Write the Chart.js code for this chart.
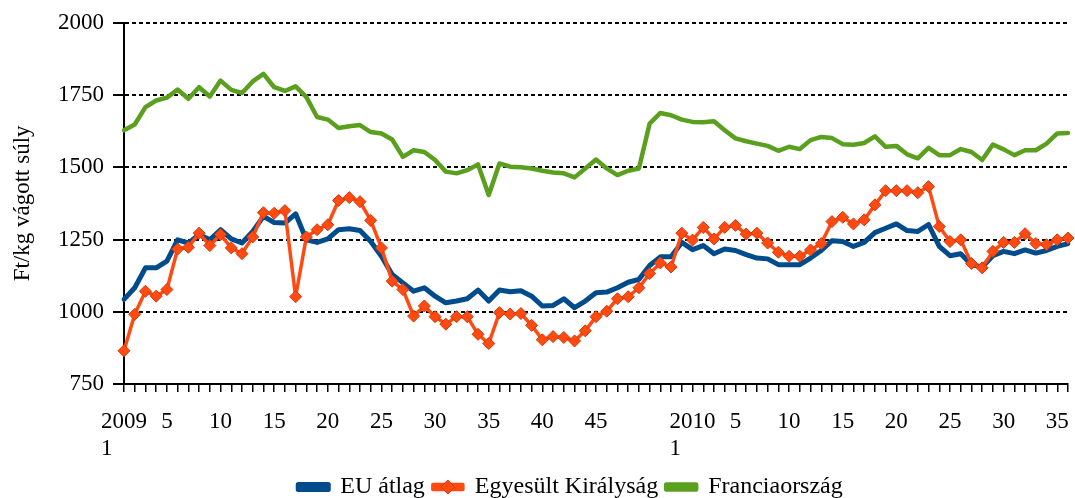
<!DOCTYPE html>
<html>
<head>
<meta charset="utf-8">
<script src="https://cdn.jsdelivr.net/npm/chart.js@4.4.1/dist/chart.umd.min.js"></script>
<style>
    html, body { margin: 0; padding: 0; background: #fff; }
    #wrap { width: 1075px; height: 498px; }
</style>
</head>
<body>
<div id="wrap"><canvas id="chart" width="1075" height="498"></canvas></div>
<script>
// hetek (2009: 53 hét, 2010: 36 hét)
const weeks2009 = [1, 2, 3, 4, 5, 6, 7, 8, 9, 10, 11, 12, 13, 14, 15, 16, 17, 18, 19, 20, 21, 22, 23, 24, 25, 26, 27,
    28, 29, 30, 31, 32, 33, 34, 35, 36, 37, 38, 39, 40, 41, 42, 43, 44, 45, 46, 47, 48, 49, 50, 51, 52, 53];
const weeks2010 = [1, 2, 3, 4, 5, 6, 7, 8, 9, 10, 11, 12, 13, 14, 15, 16, 17, 18, 19, 20, 21, 22, 23, 24, 25, 26, 27,
    28, 29, 30, 31, 32, 33, 34, 35, 36];
const labeledWeeks = [5, 10, 15, 20, 25, 30, 35, 40, 45];

const labels = weeks2009.map(w => '2009/' + w).concat(weeks2010.map(w => '2010/' + w));

// Ft/kg vágott súly
const euAtlag = [1043, 1083, 1152, 1152, 1175, 1249, 1238, 1267, 1249, 1284, 1252, 1238, 1278, 1330, 1309, 1307,
    1339, 1249, 1240, 1252, 1284, 1287, 1281, 1243, 1192, 1129, 1100, 1071, 1083, 1054, 1031, 1037, 1045, 1075,
    1037, 1075, 1069, 1073, 1054, 1020, 1022, 1045, 1014, 1037, 1066, 1068, 1083, 1102, 1112, 1160, 1190, 1190,
    1240, 1215, 1229, 1201, 1217, 1212, 1198, 1186, 1183, 1163, 1163, 1163, 1186, 1212, 1246, 1243, 1226, 1240,
    1274, 1289, 1304, 1281, 1278, 1302, 1226, 1194, 1201, 1163, 1155, 1194, 1209, 1201, 1214, 1203, 1212, 1226, 1236];

const egyesultKiralysag = [865, 991, 1071, 1054, 1077, 1217, 1223, 1272, 1229, 1267, 1221, 1201, 1259, 1343, 1341,
    1350, 1052, 1259, 1284, 1301, 1385, 1395, 1381, 1316, 1221, 1106, 1077, 985, 1020, 983, 957, 983, 983, 922, 890,
    997, 992, 994, 953, 903, 914, 911, 899, 934, 983, 1002, 1045, 1052, 1083, 1132, 1169, 1155, 1272, 1248, 1292,
    1252, 1292, 1299, 1269, 1272, 1238, 1206, 1192, 1192, 1214, 1236, 1312, 1327, 1304, 1318, 1370, 1419, 1419,
    1419, 1412, 1433, 1295, 1243, 1249, 1167, 1152, 1209, 1240, 1240, 1270, 1236, 1232, 1249, 1255];

const franciaorszag = [1628, 1648, 1708, 1731, 1741, 1769, 1737, 1777, 1745, 1800, 1768, 1757, 1797, 1823, 1777,
    1764, 1780, 1743, 1674, 1665, 1636, 1642, 1646, 1622, 1617, 1596, 1536, 1559, 1553, 1525, 1485, 1479, 1490,
    1510, 1404, 1513, 1502, 1500, 1496, 1488, 1482, 1479, 1465, 1496, 1527, 1496, 1473, 1488, 1496, 1651, 1688,
    1680, 1665, 1657, 1656, 1659, 1628, 1600, 1590, 1582, 1574, 1557, 1571, 1563, 1594, 1605, 1601, 1580, 1578,
    1584, 1607, 1571, 1574, 1545, 1531, 1567, 1542, 1542, 1563, 1553, 1525, 1579, 1562, 1542, 1559, 1559, 1582,
    1617, 1619];

const yMin = 750, yMax = 2000, yStep = 250;

const font = { family: "'Liberation Serif', 'DejaVu Serif', serif", size: 23 };
const legendFont = { family: "'Liberation Serif', 'DejaVu Serif', serif", size: 24 };

// jelmagyarázat eltolása + rombusz a vonalra
const legendDx = 36, legendDy = 11;
const legendTweak = {
    id: 'legendTweak',
    beforeDraw(chart) {
        const lg = chart.legend;
        lg.left += legendDx;
        lg.right += legendDx;
        lg.top += legendDy;
        lg.bottom += legendDy;
    },
    afterDraw(chart) {
        const box = chart.legend.legendHitBoxes[1];
        if (!box) return;
        const ctx = chart.ctx;
        const cx = box.left + legendDx + 15;
        const cy = box.top + legendDy + box.height / 2;
        ctx.save();
        ctx.fillStyle = '#ff4a12';
        ctx.strokeStyle = '#d23a0a';
        ctx.lineWidth = 1;
        ctx.beginPath();
        ctx.moveTo(cx, cy - 7);
        ctx.lineTo(cx + 7, cy);
        ctx.lineTo(cx, cy + 7);
        ctx.lineTo(cx - 7, cy);
        ctx.closePath();
        ctx.fill();
        ctx.stroke();
        ctx.restore();
    }
};

const ctx = document.getElementById('chart').getContext('2d');
const chart = new Chart(ctx, {
    type: 'line',
    data: {
        labels: labels,
        datasets: [
            {
                label: 'EU átlag',
                data: euAtlag,
                borderColor: '#004b8c',
                backgroundColor: '#004b8c',
                borderWidth: 5,
                pointRadius: 0,
                order: 1
            },
            {
                label: 'Egyesült Királyság',
                data: egyesultKiralysag,
                borderColor: '#ff4a12',
                backgroundColor: '#ff4a12',
                borderWidth: 3.5,
                pointStyle: 'rectRot',
                pointRadius: 6,
                pointBorderWidth: 1,
                pointBorderColor: '#d23a0a',
                pointBackgroundColor: '#ff4a12',
                order: 0
            },
            {
                label: 'Franciaország',
                data: franciaorszag,
                borderColor: '#5aa01e',
                backgroundColor: '#5aa01e',
                borderWidth: 4.5,
                pointRadius: 0,
                order: 2
            }
        ]
    },
    options: {
        responsive: false,
        animation: false,
        events: [],
        layout: { padding: { left: 0, right: 6, top: 22, bottom: 0 } },
        elements: { line: { tension: 0, borderJoinStyle: 'round', borderCapStyle: 'round' } },
        plugins: {
            tooltip: { enabled: false },
            legend: {
                position: 'bottom',
                labels: {
                    font: legendFont,
                    color: '#000',
                    boxWidth: 30,
                    boxHeight: 5,
                    padding: 8,
                    sort: (a, b) => a.datasetIndex - b.datasetIndex
                }
            }
        },
        scales: {
            x: {
                offset: false,
                grid: { drawOnChartArea: false, drawTicks: true, tickLength: 8, color: '#000', lineWidth: 1.5 },
                border: { color: '#000', width: 2 },
                ticks: {
                    autoSkip: false,
                    maxRotation: 0,
                    minRotation: 0,
                    padding: 16,
                    color: '#000',
                    font: font,
                    callback: function (value, index) {
                        const parts = labels[index].split('/');
                        const w = Number(parts[1]);
                        if (w === 1) return [parts[0], '1      '];
                        if (labeledWeeks.includes(w)) return String(w);
                        return '';
                    }
                },
                afterFit: function (scale) {
                    scale.height = 72;
                    scale.paddingLeft = 0;
                    scale.paddingRight = 0;
                }
            },
            y: {
                min: yMin,
                max: yMax,
                ticks: {
                    stepSize: yStep,
                    color: '#000',
                    font: font,
                    padding: 9,
                    callback: v => String(v)
                },
                grid: { color: '#000', lineWidth: 2, tickLength: 11, tickBorderDash: [] },
                border: { color: '#000', width: 2, dash: [4, 3] },
                title: {
                    display: true,
                    text: 'Ft/kg vágott súly',
                    color: '#000',
                    font: font,
                    padding: { top: 9, bottom: 0 }
                },
                afterFit: function (scale) { scale.width = 124; }
            }
        }
    },
    plugins: [legendTweak]
});
</script>
</body>
</html>
